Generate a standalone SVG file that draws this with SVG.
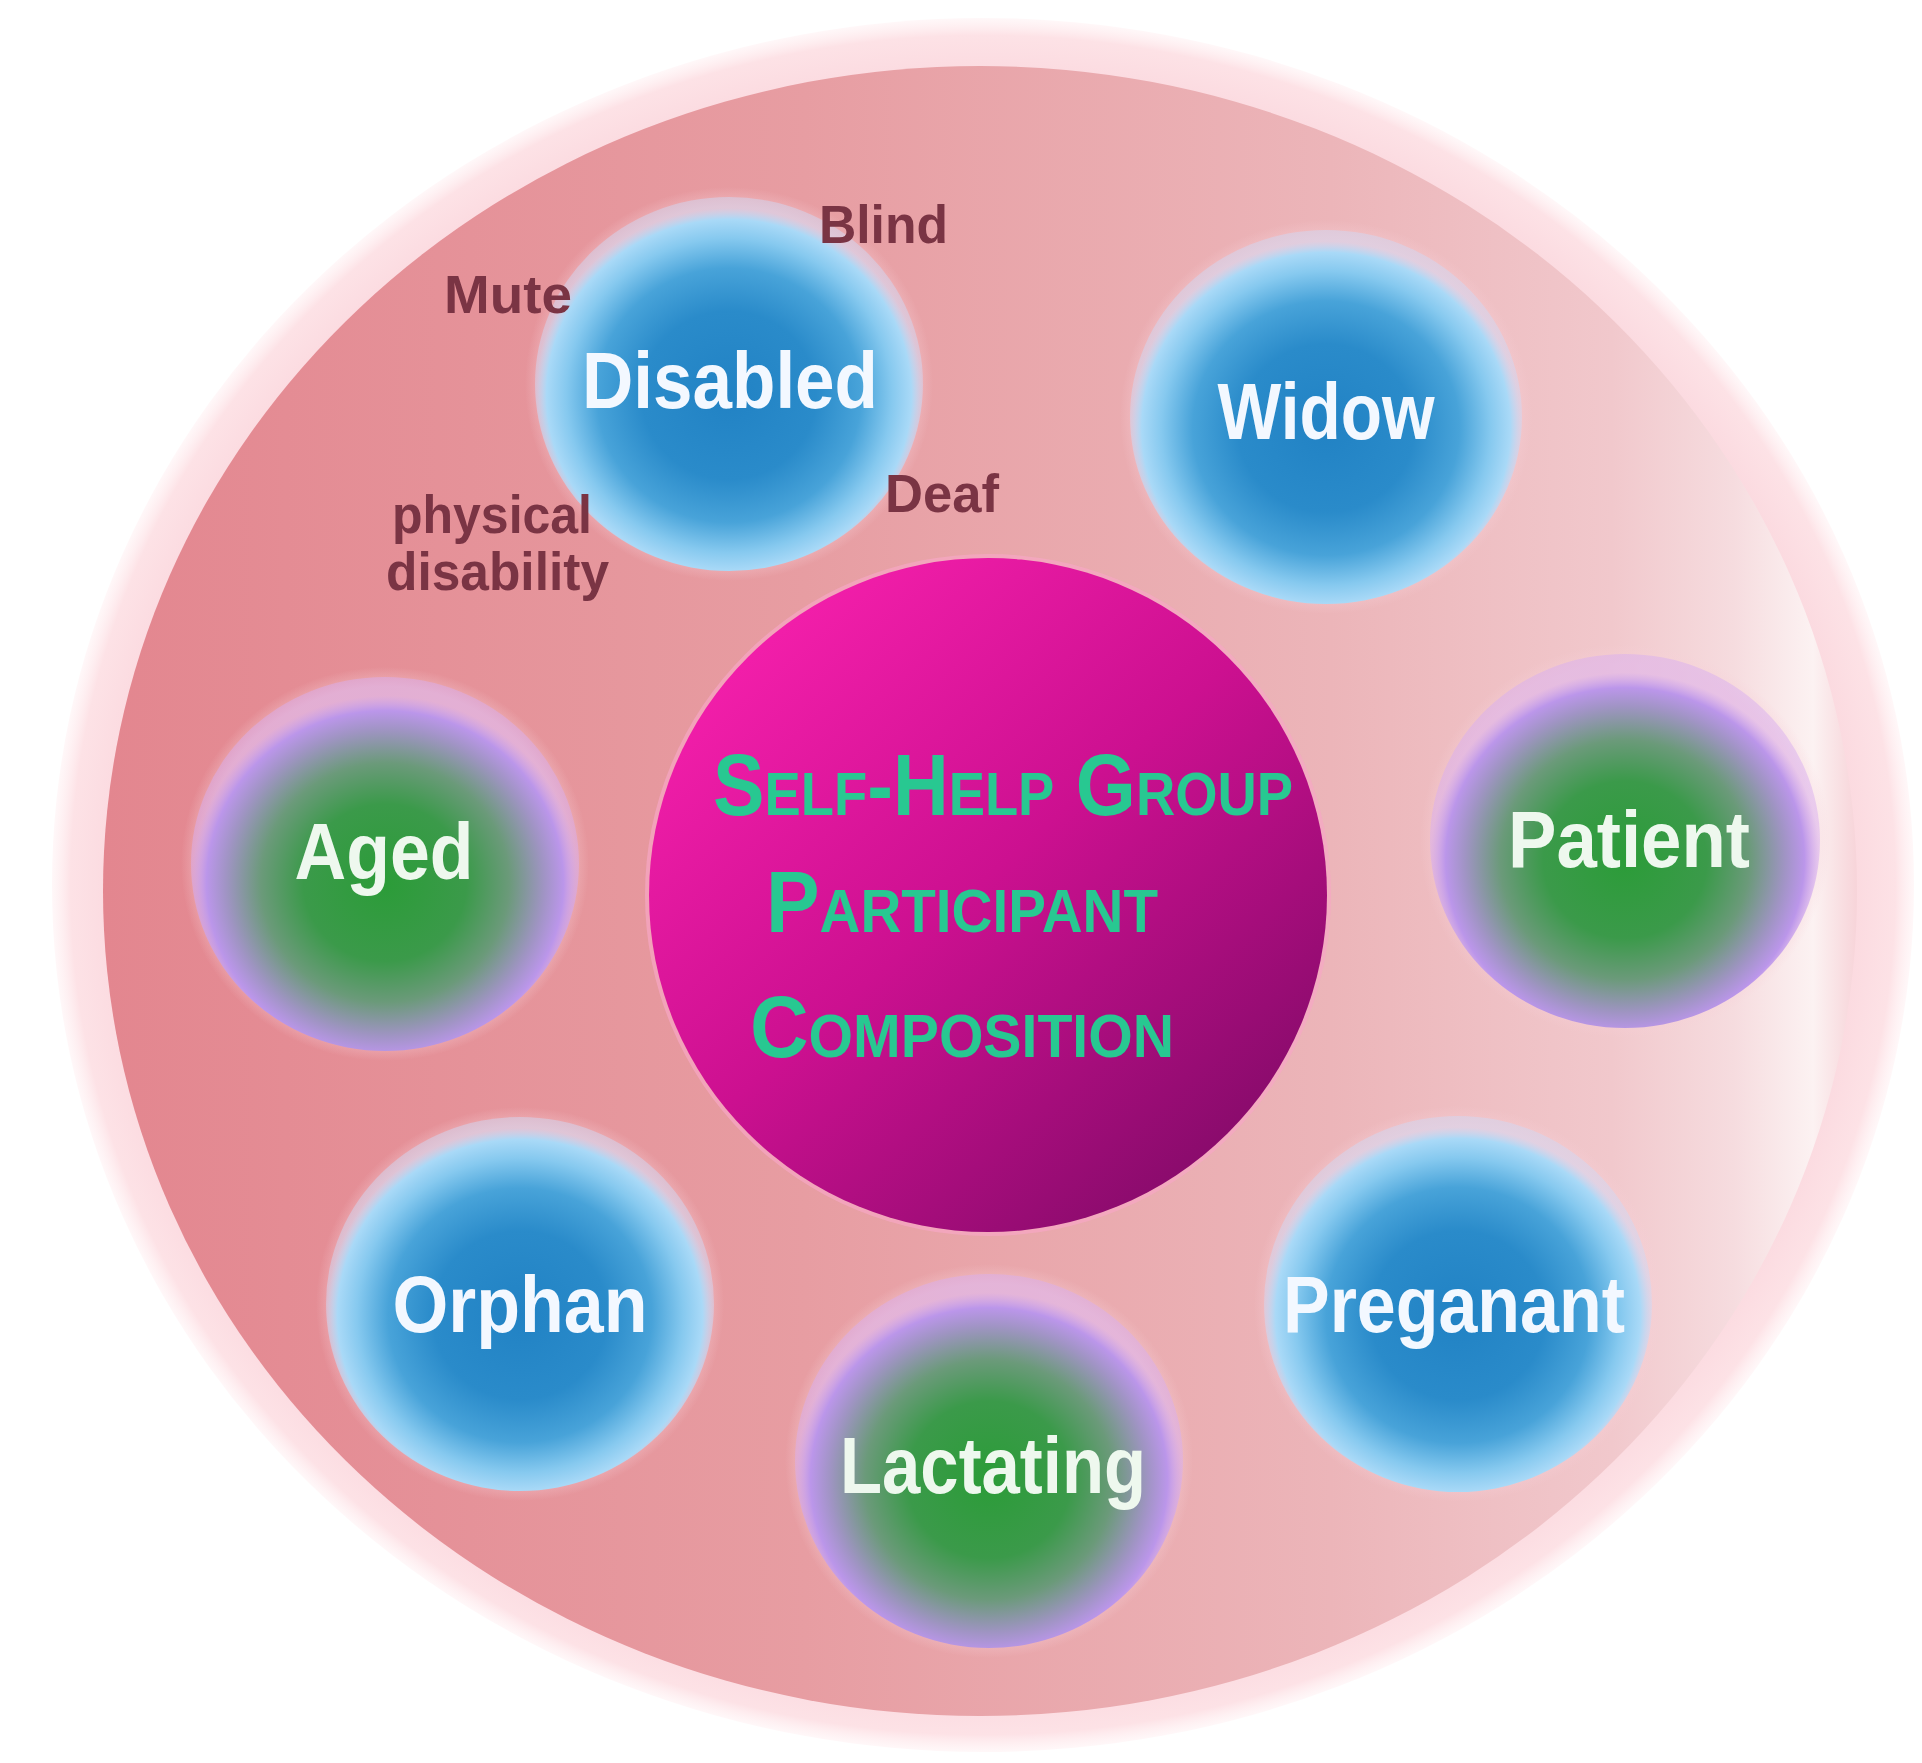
<svg xmlns="http://www.w3.org/2000/svg" width="1922" height="1763" viewBox="0 0 1922 1763">
<defs>
<radialGradient id="outerRing" cx="50%" cy="50%" r="50%">
<stop offset="0.93" stop-color="#fbd9df"/>
<stop offset="0.98" stop-color="#fde2e6"/>
<stop offset="1" stop-color="#fff0f2" stop-opacity="0.5"/>
</radialGradient>
<linearGradient id="innerFill" x1="0" y1="0" x2="1" y2="0">
<stop offset="0" stop-color="#e3868f"/>
<stop offset="0.4" stop-color="#e79da2"/>
<stop offset="0.7" stop-color="#ecb5b9"/>
<stop offset="0.86" stop-color="#f1c8cc"/>
<stop offset="0.93" stop-color="#f6dcdf"/>
<stop offset="0.975" stop-color="#fcf2f2"/>
<stop offset="1" stop-color="#f7d4d9"/>
</linearGradient>
<linearGradient id="centerFill" x1="0.15" y1="0.1" x2="0.9" y2="0.95">
<stop offset="0" stop-color="#f41fab"/>
<stop offset="0.45" stop-color="#cc1090"/>
<stop offset="1" stop-color="#7e0a66"/>
</linearGradient>
<radialGradient id="blueBall" cx="50%" cy="53%" r="50%">
<stop offset="0" stop-color="#2182c4"/>
<stop offset="0.45" stop-color="#2a8bca"/>
<stop offset="0.68" stop-color="#48a3d9"/>
<stop offset="0.84" stop-color="#86c9ef"/>
<stop offset="0.94" stop-color="#a9d9f7"/>
<stop offset="1" stop-color="#d0d8f4" stop-opacity="0.5"/>
</radialGradient>
<radialGradient id="greenBall" cx="50%" cy="55%" r="50%">
<stop offset="0" stop-color="#2b9c38"/>
<stop offset="0.42" stop-color="#3b9a4a"/>
<stop offset="0.64" stop-color="#6b9a7a"/>
<stop offset="0.82" stop-color="#a094c4"/>
<stop offset="0.92" stop-color="#bb96ea"/>
<stop offset="1" stop-color="#d8aef0" stop-opacity="0.5"/>
</radialGradient>
<radialGradient id="haloGrad" cx="50%" cy="50%" r="50%">
<stop offset="0.9" stop-color="#f7d0d8" stop-opacity="0.5"/>
<stop offset="1" stop-color="#f7d0d8" stop-opacity="0"/>
</radialGradient>
</defs>
<style>
.lbl{font-family:"Liberation Sans",Arial,sans-serif;font-weight:bold;font-size:80px;text-anchor:middle;}
.blueTxt{fill:#f3f8ff;}
.greenTxt{fill:#eef8ee;}
.sub{font-family:"Liberation Sans",Arial,sans-serif;font-weight:bold;font-size:54px;fill:#7a3444;}
.title{font-family:"Liberation Sans",Arial,sans-serif;font-weight:bold;font-size:88px;font-variant:small-caps;fill:#28c891;text-anchor:middle;}
.halo{fill:url(#haloGrad);}
</style>
<rect width="1922" height="1763" fill="#ffffff"/>
<g id="background">
<ellipse cx="983" cy="885" rx="931" ry="867" fill="url(#outerRing)"/>
<ellipse cx="980" cy="891" rx="877" ry="825" fill="url(#innerFill)"/>
</g>
<g id="connectors"></g>
<g id="node-center">
<ellipse cx="988" cy="895" rx="343" ry="341" fill="#f6a7c4" opacity="0.7"/>
<ellipse cx="988" cy="895" rx="339" ry="337" fill="url(#centerFill)"/>
<text class="title" x="1003" y="815" textLength="580" lengthAdjust="spacingAndGlyphs">Self-Help Group</text>
<text class="title" x="962" y="932" textLength="392" lengthAdjust="spacingAndGlyphs">Participant</text>
<text class="title" x="962" y="1057" textLength="424" lengthAdjust="spacingAndGlyphs">Composition</text>
</g>
<g id="node-disabled">
<ellipse class="halo" cx="729" cy="384" rx="204" ry="197"/>
<ellipse cx="729" cy="384" rx="194" ry="187" fill="url(#blueBall)"/>
<text class="lbl blueTxt" x="730" y="408" textLength="296" lengthAdjust="spacingAndGlyphs">Disabled</text>
</g>
<g id="disabled-types">
<text class="sub" x="819" y="243" textLength="129" lengthAdjust="spacingAndGlyphs">Blind</text>
<text class="sub" x="444" y="313" textLength="128" lengthAdjust="spacingAndGlyphs">Mute</text>
<text class="sub" x="885" y="512" textLength="114" lengthAdjust="spacingAndGlyphs">Deaf</text>
<text class="sub" x="392" y="533" textLength="200" lengthAdjust="spacingAndGlyphs">physical</text>
<text class="sub" x="386" y="590" textLength="223" lengthAdjust="spacingAndGlyphs">disability</text>
</g>
<g id="node-widow">
<ellipse class="halo" cx="1326" cy="417" rx="206" ry="197"/>
<ellipse cx="1326" cy="417" rx="196" ry="187" fill="url(#blueBall)"/>
<text class="lbl blueTxt" x="1326" y="439" textLength="217" lengthAdjust="spacingAndGlyphs">Widow</text>
</g>
<g id="node-aged">
<ellipse class="halo" cx="385" cy="864" rx="204" ry="197"/>
<ellipse cx="385" cy="864" rx="194" ry="187" fill="url(#greenBall)"/>
<text class="lbl greenTxt" x="384" y="879" textLength="179" lengthAdjust="spacingAndGlyphs">Aged</text>
</g>
<g id="node-patient">
<ellipse class="halo" cx="1625" cy="841" rx="205" ry="197"/>
<ellipse cx="1625" cy="841" rx="195" ry="187" fill="url(#greenBall)"/>
<text class="lbl greenTxt" x="1629" y="867" textLength="242" lengthAdjust="spacingAndGlyphs">Patient</text>
</g>
<g id="node-orphan">
<ellipse class="halo" cx="520" cy="1304" rx="204" ry="197"/>
<ellipse cx="520" cy="1304" rx="194" ry="187" fill="url(#blueBall)"/>
<text class="lbl blueTxt" x="520" y="1332" textLength="255" lengthAdjust="spacingAndGlyphs">Orphan</text>
</g>
<g id="node-preganant">
<ellipse class="halo" cx="1458" cy="1304" rx="204" ry="198"/>
<ellipse cx="1458" cy="1304" rx="194" ry="188" fill="url(#blueBall)"/>
<text class="lbl blueTxt" x="1454" y="1332" textLength="342" lengthAdjust="spacingAndGlyphs">Preganant</text>
</g>
<g id="node-lactating">
<ellipse class="halo" cx="989" cy="1461" rx="204" ry="197"/>
<ellipse cx="989" cy="1461" rx="194" ry="187" fill="url(#greenBall)"/>
<text class="lbl greenTxt" x="993" y="1493" textLength="306" lengthAdjust="spacingAndGlyphs">Lactating</text>
</g>
</svg>
